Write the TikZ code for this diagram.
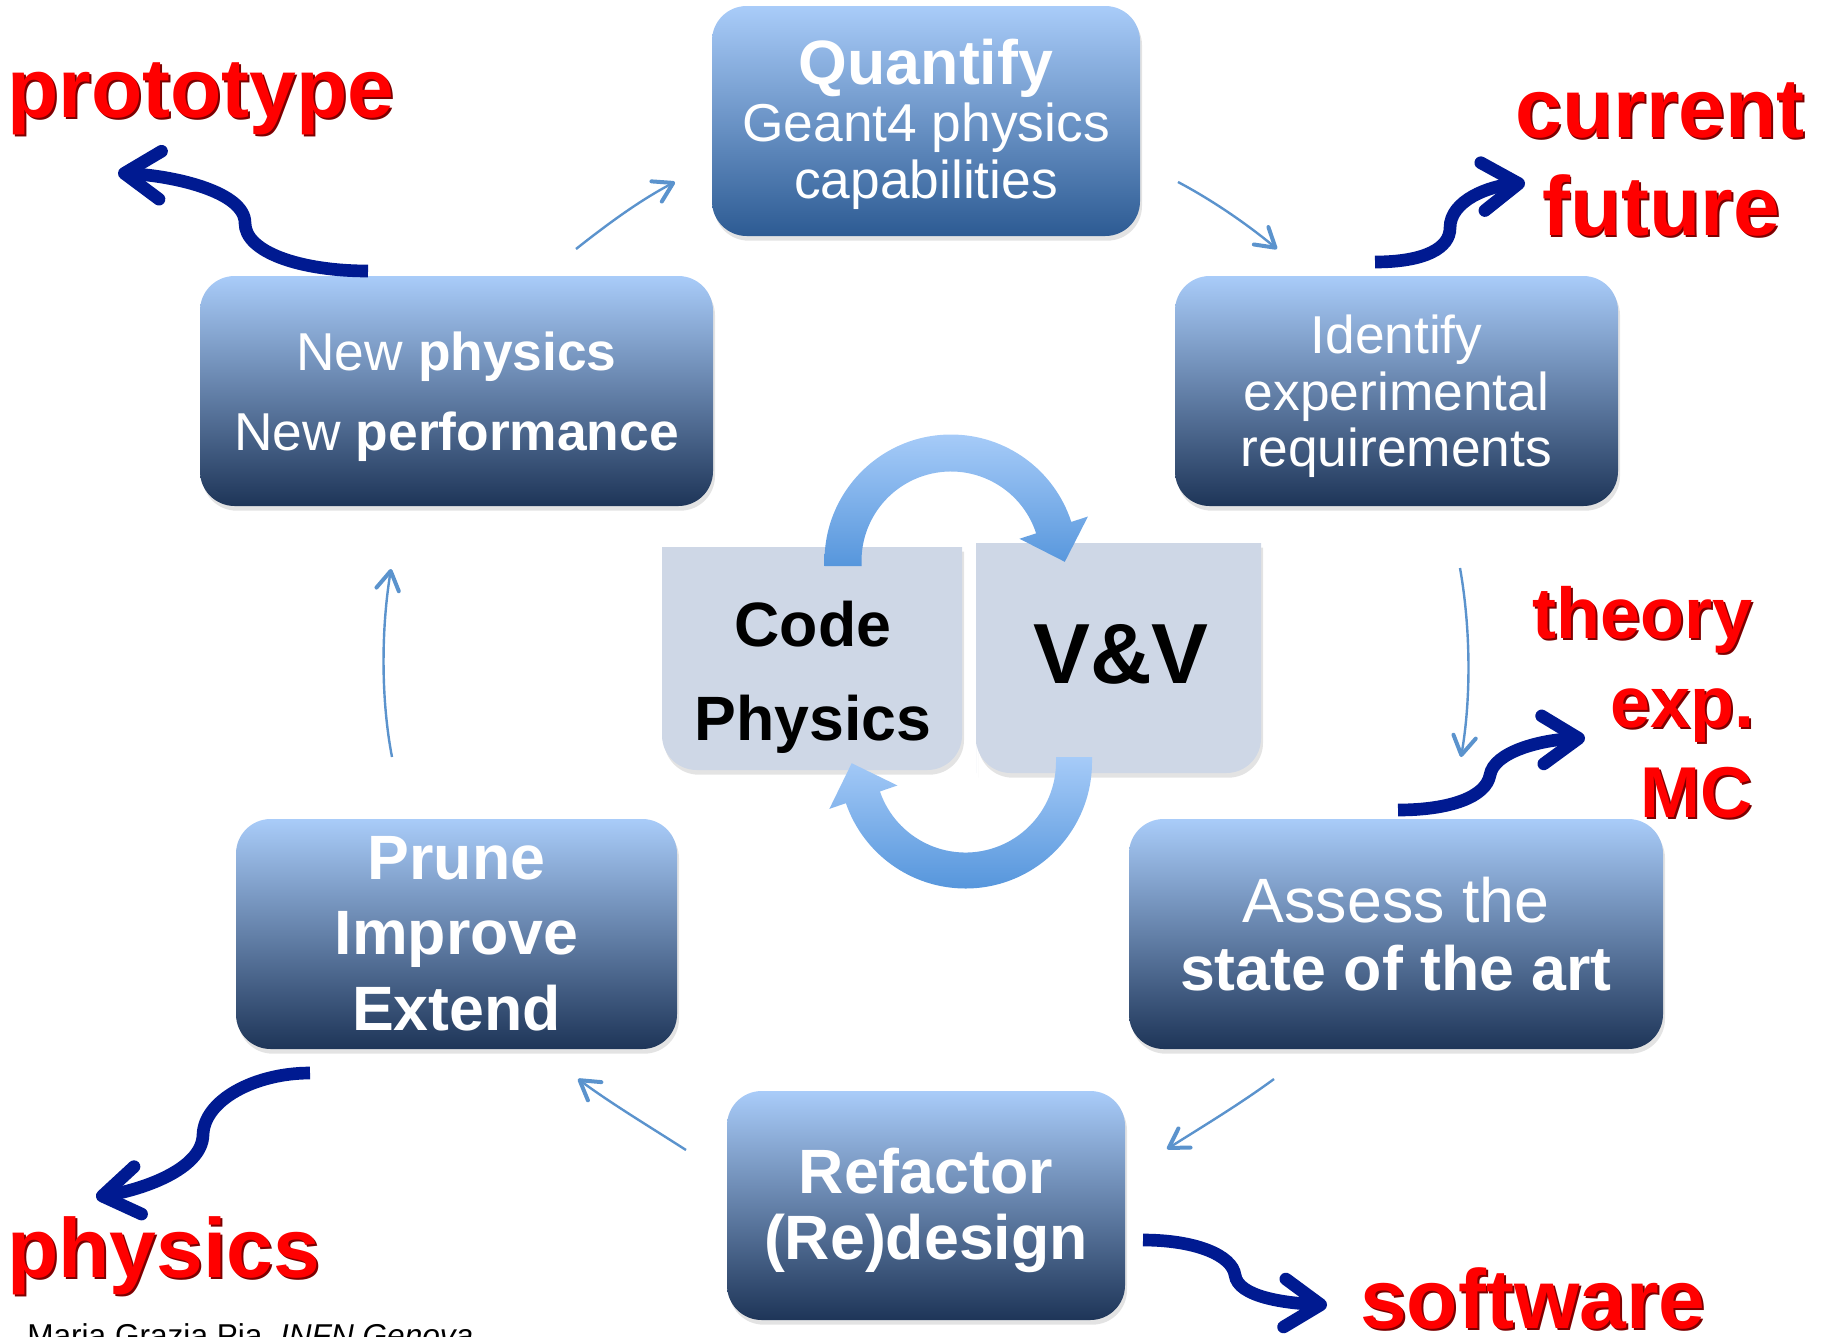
\documentclass[tikz,border=0pt]{standalone}
\usepackage{fontspec}
\setmainfont{Liberation Sans}
\usetikzlibrary{arrows.meta,shadows}

\definecolor{boxtop}{RGB}{169,204,249}
\definecolor{boxbot}{RGB}{30,53,88}
\definecolor{qtybot}{RGB}{45,91,147}
\definecolor{vvfill}{RGB}{206,215,230}
\definecolor{bandtop}{RGB}{166,203,248}
\definecolor{bandbot}{RGB}{86,150,220}
\definecolor{curlblue}{RGB}{0,26,145}
\definecolor{thinblue}{RGB}{91,147,205}
\definecolor{lblred}{RGB}{255,0,0}
\definecolor{lblshade}{RGB}{125,0,0}

\newcommand{\shd}[1]{\makebox[0pt][l]{\hspace{1.4pt}\raisebox{-2.2pt}{\color{lblshade}#1}}#1}

\begin{document}
\begin{tikzpicture}[x=0.75pt,y=0.75pt,yscale=-1,xscale=1,
    cyclebox/.style={rectangle, rounded corners=26pt, top color=boxtop, bottom color=boxbot, draw=none,
        minimum height=172.5pt, drop shadow={opacity=0.22, shadow xshift=1.5pt, shadow yshift=-3.5pt}},
    boxtxt/.style={text=white, align=center, inner sep=0pt},
    vvbox/.style={fill=vvfill, drop shadow={opacity=0.22, shadow xshift=1.5pt, shadow yshift=-3.5pt}},
    band/.style={top color=bandtop, bottom color=bandbot, draw=none},
    redlbl/.style={text=lblred, inner sep=0pt, font=\bfseries\fontsize{63}{70}\selectfont},
    redsmall/.style={redlbl, font=\bfseries\fontsize{54}{60}\selectfont},
    curl/.style={draw=curlblue, line width=9.5pt, -{Straight Barb[length=27pt, width=36pt, round]}},
    flow/.style={draw=thinblue, line width=1.8pt, -{Straight Barb[length=14pt, width=17pt, line width=3pt, round]}}]
        \useasboundingbox (0,0) rectangle (1821,1336);

        % cycle boxes
        \node [cyclebox, bottom color=qtybot, minimum width=321pt] (qty) at (926,121) {};
        \node [cyclebox, minimum width=384.75pt] (np) at (456.5,391) {};
        \node [cyclebox, minimum width=332.25pt] (idf) at (1396.5,391) {};
        \node [cyclebox, minimum width=330.75pt] (prn) at (456.5,934) {};
        \node [cyclebox, minimum width=400.5pt] (ass) at (1396,934) {};
        \node [cyclebox, minimum width=298.5pt, minimum height=171.75pt] (ref) at (926,1205.5) {};

        % box texts
        \node [boxtxt, font=\fontsize{40}{42.75}\selectfont] (qtyT) at (926,124) {{\bfseries\fontsize{47}{50}\selectfont Quantify}\\Geant4 physics\\capabilities};
        \node [boxtxt, font=\fontsize{40}{60}\selectfont] (npT) at (456.5,397) {New \textbf{physics}\\New \textbf{performance}};
        \node [boxtxt, font=\fontsize{40}{42.4}\selectfont] (idfT) at (1396.5,396.5) {Identify\\experimental\\requirements};
        \node [boxtxt, font=\bfseries\fontsize{47}{56.6}\selectfont] (prnT) at (456.5,933.5) {Prune\\Improve\\Extend};
        \node [boxtxt, font=\fontsize{47}{51}\selectfont] (assT) at (1396,934) {Assess the\\\textbf{state of the art}};
        \node [boxtxt, font=\bfseries\fontsize{47}{49.5}\selectfont] (refT) at (926,1210.5) {Refactor\\(Re)design};

        % centre: Code / Physics and V&V
        \path [vvbox] (962,547) -- (662,547) [rounded corners=26pt] -- (662,770) -- (962,770) [sharp corners] -- cycle;
        \path [vvbox] (976,773) -- (976,543) -- (1261,543) [rounded corners=26pt] -- (1261,773) -- (976,773) [sharp corners] -- cycle;
        \node [align=center, inner sep=0pt, font=\bfseries\fontsize{47}{70.5}\selectfont] (code) at (813,677.5) {Code\\Physics};
        \node [anchor=base, inner sep=0pt, font=\bfseries\fontsize{64}{70}\selectfont] (vv) at (1121,683) {V\&V};

        % round arrows
        \path [band] (824.5,566) -- (824.5,561) arc [start angle=180, end angle=342, radius=126.5] -- ([shift={(951,561)}]342:144) -- (1064.8,561.8) -- ([shift={(951,561)}]342:72) -- ([shift={(951,561)}]342:89.5) arc [start angle=342, end angle=180, radius=89.5] -- (861.5,566) -- cycle;
        \path [band] (1092,757) -- (1092,762) arc [start angle=0, end angle=161, radius=126.5] -- ([shift={(965.5,762)}]161:144) -- (851.7,763.2) -- ([shift={(965.5,762)}]161:72) -- ([shift={(965.5,762)}]161:90.5) arc [start angle=161, end angle=0, radius=90.5] -- (1056,757) -- cycle;

        % thin cycle connectors
        \coordinate (f1s) at (576,249); \coordinate (f1e) at (675,182);
        \coordinate (f2s) at (1178,182); \coordinate (f2e) at (1277,249);
        \coordinate (f3s) at (1460,568); \coordinate (f3e) at (1461,757);
        \coordinate (f4s) at (1274,1079); \coordinate (f4e) at (1167,1149);
        \coordinate (f5s) at (686,1150); \coordinate (f5e) at (578,1079);
        \coordinate (f6s) at (392,757); \coordinate (f6e) at (391,569);
        \draw [flow] (f1s) .. controls (605,226) and (640,200) .. (f1e);
        \draw [flow] (f2s) .. controls (1212,200) and (1247,224) .. (f2e);
        \draw [flow] (f3s) .. controls (1471,630) and (1471,700) .. (f3e);
        \draw [flow] (f4s) .. controls (1240,1104) and (1205,1125) .. (f4e);
        \draw [flow] (f5s) .. controls (647,1125) and (612,1104) .. (f5e);
        \draw [flow] (f6s) .. controls (381,700) and (381,630) .. (f6e);

        % red labels
        \node [redlbl, anchor=base west] (proto) at (7,117) {\shd{prototype}};
        \node [redlbl, anchor=base] (cur) at (1660,137) {\shd{current}};
        \node [redlbl, anchor=base] (fut) at (1661,235) {\shd{future}};
        \node [redsmall, anchor=base east] (thy) at (1753,638) {\shd{theory}};
        \node [redsmall, anchor=base east] (expn) at (1755,727) {\shd{exp.}};
        \node [redsmall, anchor=base east] (mc) at (1753,817) {\shd{MC}};
        \node [redlbl, anchor=base west] (phys) at (7,1277) {\shd{physics}};
        \node [redlbl, anchor=base west] (soft) at (1360,1328) {\shd{software}};

        % curly arrows
        \coordinate (c1s) at (368,271); \coordinate (c1e) at (118,173);
        \coordinate (c2s) at (1375,262); \coordinate (c2e) at (1525,183);
        \coordinate (c3s) at (1398,810); \coordinate (c3e) at (1585,738);
        \coordinate (c4s) at (310,1073); \coordinate (c4e) at (96,1197);
        \coordinate (c5s) at (1143,1240); \coordinate (c5e) at (1327,1305);
        \draw [curl] (c1s) .. controls (300,271) and (245,252) .. (245,223) .. controls (245,192) and (175,176) .. (c1e);
        \draw [curl] (c2s) .. controls (1425,262) and (1450,248) .. (1450,228) .. controls (1450,200) and (1490,186) .. (c2e);
        \draw [curl] (c3s) .. controls (1450,810) and (1486,797) .. (1490,775) .. controls (1494,752) and (1540,740) .. (c3e);
        \draw [curl] (c4s) .. controls (255,1073) and (204,1100) .. (203,1135) .. controls (202,1170) and (140,1190) .. (c4e);
        \draw [curl] (c5s) .. controls (1195,1240) and (1232,1255) .. (1235,1275) .. controls (1238,1297) and (1285,1303) .. (c5e);

        % footer
        \node [anchor=base west, inner sep=0pt, font=\fontsize{23.7}{26}\selectfont] (foot) at (27,1346) {Maria Grazia Pia, \textit{INFN Genova}};

    \end{tikzpicture}
\end{document}
